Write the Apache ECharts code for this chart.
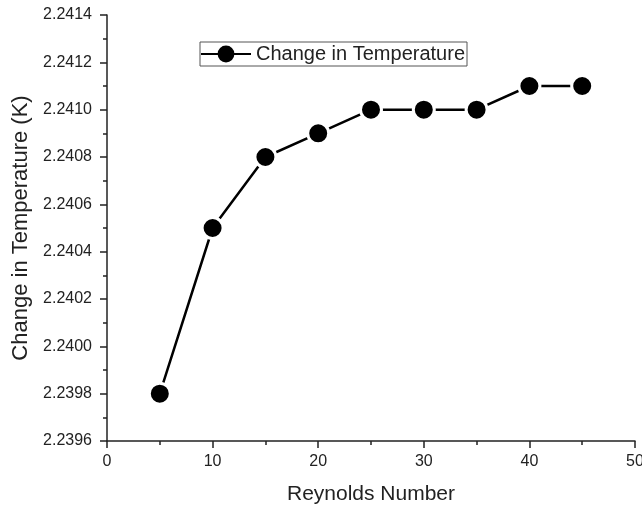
<!DOCTYPE html>
<html>
<head>
<meta charset="utf-8">
<script src="https://cdn.jsdelivr.net/npm/echarts@6/dist/echarts.min.js"></script>
<style>html,body{margin:0;padding:0;background:#fff}#c{width:642px;height:508px}</style>
</head>
<body>
<div id="c"></div>
<script>
const reynolds = [5, 10, 15, 20, 25, 30, 35, 40, 45];
const deltaT = [2.2398, 2.2405, 2.2408, 2.2409, 2.2410, 2.2410, 2.2410, 2.2411, 2.2411];
const seriesName = 'Change in Temperature';
const xTitle = 'Reynolds Number';
const yTitle = 'Change in Temperature (K)';

const font = 'Liberation Sans, Arial, sans-serif';
const txt = '#222';
const chart = echarts.init(document.getElementById('c'), null, {renderer: 'canvas'});
chart.setOption({
  backgroundColor: '#fff',
  animation: false,
  grid: {left: 107, right: 7, top: 15, bottom: 67, containLabel: false, outerBoundsMode: 'none'},
  legend: {
    left: 200, top: 42,
    data: [seriesName],
    itemWidth: 50, itemHeight: 21,
    padding: [2, 2, 2, 0],
    borderColor: '#555', borderWidth: 1,
    itemStyle: {borderWidth: 0, color: '#000'},
    textStyle: {fontFamily: font, fontSize: 20, color: txt}
  },
  xAxis: {
    type: 'value', min: 0, max: 50, interval: 10,
    name: xTitle, nameLocation: 'middle', nameGap: 43,
    nameTextStyle: {fontFamily: font, fontSize: 21, color: txt},
    axisLine: {show: true, lineStyle: {color: '#222', width: 1.5}},
    axisTick: {show: true, length: 7, lineStyle: {color: '#222', width: 1.5}},
    minorTick: {show: true, splitNumber: 2, length: 4, lineStyle: {color: '#222', width: 1.5}},
    axisLabel: {fontFamily: font, fontSize: 16, color: txt, margin: 13},
    splitLine: {show: false}
  },
  yAxis: {
    type: 'value', min: 2.2396, max: 2.2414, interval: 0.0002,
    name: yTitle, nameLocation: 'middle', nameGap: 73, nameRotate: 90,
    nameTextStyle: {fontFamily: font, fontSize: 22, color: txt},
    axisLine: {show: true, lineStyle: {color: '#222', width: 1.5}},
    axisTick: {show: true, length: 7, lineStyle: {color: '#222', width: 1.5}},
    minorTick: {show: true, splitNumber: 2, length: 4, lineStyle: {color: '#222', width: 1.5}},
    axisLabel: {fontFamily: font, fontSize: 16, color: txt, margin: 15,
      formatter: v => v.toFixed(4)},
    splitLine: {show: false}
  },
  series: [{
    name: seriesName,
    type: 'line',
    data: reynolds.map((x, i) => [x, deltaT[i]]),
    symbol: 'circle', symbolSize: 21,
    lineStyle: {color: '#000', width: 2.5},
    itemStyle: {color: '#000', borderColor: '#fff', borderWidth: 3},
    emphasis: {disabled: true}
  }]
});
</script>
</body>
</html>
